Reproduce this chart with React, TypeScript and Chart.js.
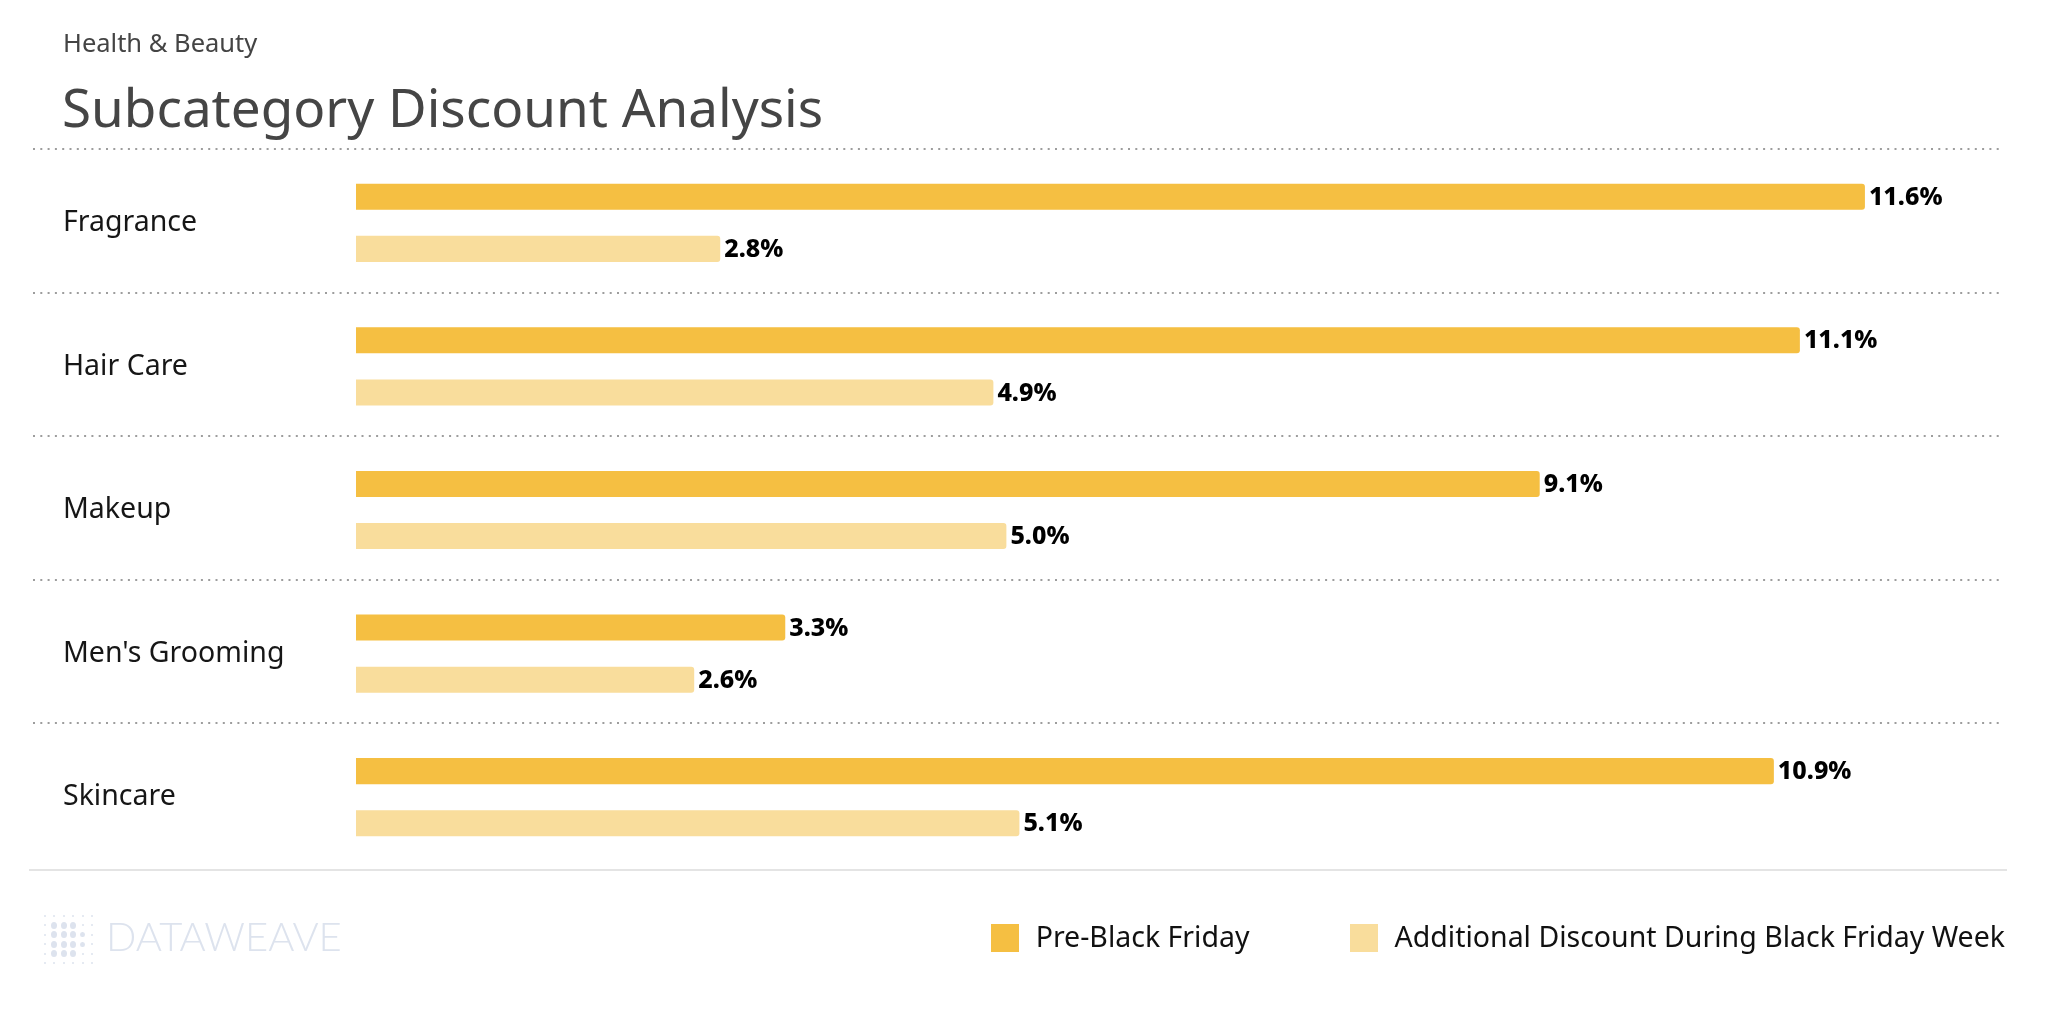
import React, { useEffect, useRef } from 'react';
import { Chart, registerables } from 'chart.js';

Chart.register(...registerables);

const categories = ['Fragrance', 'Hair Care', 'Makeup', "Men's Grooming", 'Skincare'];
const preBlackFriday = [11.6, 11.1, 9.1, 3.3, 10.9];
const additionalDiscount = [2.8, 4.9, 5.0, 2.6, 5.1];
const seriesNames = ['Pre-Black Friday', 'Additional Discount During Black Friday Week'];
const seriesColors = ['#F5BF42', '#F9DD9C'];
const subtitleText = 'Health & Beauty';
const titleText = 'Subcategory Discount Analysis';
const logoText = 'DATAWEAVE';

const FONT = "'Noto Sans', 'Open Sans', sans-serif";

const separatorPlugin = {
  id: 'separators',
  beforeDatasetsDraw(chart: any) {
    const y = chart.scales.y;
    const ctx = chart.ctx;
    const n = chart.data.labels.length;
    const step = (y.bottom - y.top) / n;
    ctx.save();
    ctx.strokeStyle = '#9d9d9d';
    ctx.lineWidth = 2;
    ctx.setLineDash([2, 5.3]);
    for (let i = 0; i < n; i++) {
      const py = Math.round(y.getPixelForValue(i) - step / 2) - 2;
      ctx.beginPath();
      ctx.moveTo(33, py);
      ctx.lineTo(2002, py);
      ctx.stroke();
    }
    ctx.setLineDash([]);
    ctx.strokeStyle = '#e4e4e4';
    const by = Math.round(y.getPixelForValue(n - 1) + step / 2) + 1;
    ctx.beginPath();
    ctx.moveTo(29, by);
    ctx.lineTo(2007, by);
    ctx.stroke();
    ctx.restore();
  },
};

const valueLabelPlugin = {
  id: 'valueLabels',
  afterDatasetsDraw(chart: any) {
    const ctx = chart.ctx;
    ctx.save();
    ctx.font = `800 25px ${FONT}`;
    ctx.fillStyle = '#000';
    ctx.textAlign = 'left';
    ctx.textBaseline = 'middle';
    chart.data.datasets.forEach((ds: any, di: number) => {
      const meta = chart.getDatasetMeta(di);
      meta.data.forEach((el: any, i: number) => {
        ctx.fillText(`${Number(ds.data[i]).toFixed(1)}%`, el.x + 4, el.y + 1);
      });
    });
    ctx.restore();
  },
};

function LogoDots() {
  const grid = [
    [0, 0, 0, 0, 0, 0],
    [0, 2, 2, 2, 0, 0],
    [0, 2, 2, 2, 1, 0],
    [0, 2, 2, 2, 1, 0],
    [0, 2, 2, 2, 0, 0],
    [0, 0, 0, 0, 0, 0],
  ];
  const cells: any[] = [];
  grid.forEach((row, r) =>
    row.forEach((s, c) => {
      const w = s === 2 ? 6 : s === 1 ? 4.5 : 2;
      const h = s === 2 ? 7 : s === 1 ? 5 : 2;
      cells.push(
        <span
          key={`${r}-${c}`}
          style={{
            position: 'absolute',
            left: 45 + c * 9.4 - w / 2,
            top: 916 + r * 9.4 - h / 2,
            width: w,
            height: h,
            borderRadius: '50%',
            background: '#dde3ee',
          }}
        />
      );
    })
  );
  return <>{cells}</>;
}

export default function App() {
  const canvasRef = useRef<HTMLCanvasElement | null>(null);

  useEffect(() => {
    if (!canvasRef.current) return;
    Chart.defaults.font.family = FONT;
    const chart = new Chart(canvasRef.current, {
      type: 'bar',
      data: {
        labels: categories,
        datasets: [
          {
            label: seriesNames[0],
            data: preBlackFriday,
            backgroundColor: seriesColors[0],
            borderRadius: 3,
            categoryPercentage: 0.726,
            barPercentage: 0.5,
          },
          {
            label: seriesNames[1],
            data: additionalDiscount,
            backgroundColor: seriesColors[1],
            borderRadius: 3,
            categoryPercentage: 0.726,
            barPercentage: 0.5,
          },
        ],
      },
      options: {
        indexAxis: 'y',
        responsive: false,
        animation: false,
        devicePixelRatio: 1,
        layout: { padding: { top: 151, bottom: 151, left: 63, right: 53 } },
        plugins: {
          legend: { display: false },
          tooltip: { enabled: false },
          title: { display: false },
        },
        scales: {
          x: { display: false, min: 0, max: 12.6 },
          y: {
            grid: { display: false },
            border: { display: false },
            ticks: {
              crossAlign: 'far',
              color: '#161616',
              font: { size: 28.5, family: FONT },
            },
            afterFit: (scale: any) => {
              scale.width = 293;
            },
          },
        },
      } as any,
      plugins: [separatorPlugin, valueLabelPlugin],
    });
    return () => chart.destroy();
  }, []);

  return (
    <div
      style={{
        position: 'absolute',
        left: 0,
        top: 0,
        width: 2048,
        height: 1020,
        background: '#fff',
        fontFamily: FONT,
        overflow: 'hidden',
      }}
    >
      <canvas
        ref={canvasRef}
        width={2048}
        height={1020}
        style={{ position: 'absolute', left: 0, top: 0, width: 2048, height: 1020 }}
      />
      <div
        style={{
          position: 'absolute',
          left: 63,
          top: 30,
          fontSize: 25.5,
          lineHeight: 1,
          color: '#444',
          whiteSpace: 'nowrap',
        }}
      >
        {subtitleText}
      </div>
      <div
        style={{
          position: 'absolute',
          left: 62,
          top: 80,
          fontSize: 53,
          lineHeight: 1,
          color: '#454545',
          whiteSpace: 'nowrap',
        }}
      >
        {titleText}
      </div>
      <LogoDots />
      <div
        style={{
          position: 'absolute',
          left: 106,
          top: 916,
          fontSize: 40,
          lineHeight: 1,
          fontFamily: "Lato, 'Noto Sans', sans-serif",
          fontWeight: 300,
          color: '#dde3ee',
          letterSpacing: 0,
          whiteSpace: 'nowrap',
        }}
      >
        {logoText}
      </div>
      <div
        style={{
          position: 'absolute',
          right: 43,
          top: 922,
          display: 'flex',
          alignItems: 'flex-start',
          gap: 100,
          whiteSpace: 'nowrap',
        }}
      >
        {seriesNames.map((name, i) => (
          <div key={name} style={{ display: 'flex', alignItems: 'flex-start' }}>
            <span
              style={{
                display: 'inline-block',
                width: 28,
                height: 28,
                marginTop: 2,
                marginRight: 17,
                background: seriesColors[i],
              }}
            />
            <span style={{ fontSize: 28.5, lineHeight: 1, color: '#111' }}>{name}</span>
          </div>
        ))}
      </div>
    </div>
  );
}
